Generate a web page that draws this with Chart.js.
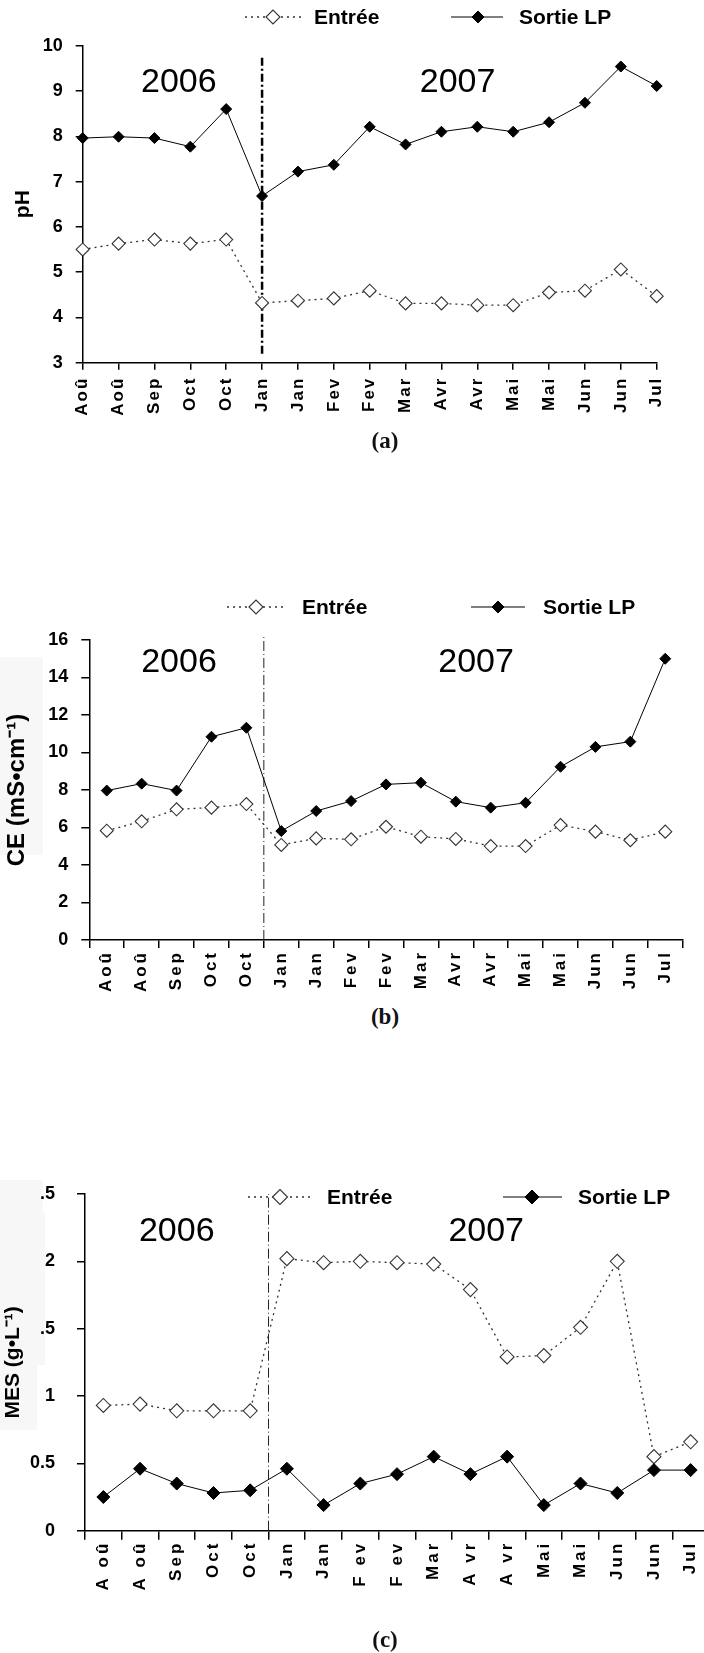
<!DOCTYPE html>
<html>
<head>
<meta charset="utf-8">
<script src="https://cdn.jsdelivr.net/npm/chart.js@4.4.0/dist/chart.umd.min.js"></script>
<style>
  body { margin: 0; width: 704px; height: 1653px; background: #fff; position: relative; overflow: hidden; }
  .panel { position: absolute; left: 0; }
  .caption { position: absolute; left: 345px; width: 80px; text-align: center; font-family: "Liberation Serif", "DejaVu Serif", serif; font-weight: bold; font-size: 23px; line-height: 26px; color: #111; }
</style>
</head>
<body>
<div class="panel" style="top:0;width:704px;height:440px"><canvas id="chartA"></canvas></div>
<div class="caption" style="top:428px">(a)</div>
<div class="panel" style="top:560px;width:704px;height:440px"><canvas id="chartB"></canvas></div>
<div class="caption" style="top:1004px">(b)</div>
<div class="panel" style="top:1160px;width:730px;height:493px"><canvas id="chartC"></canvas></div>
<div class="caption" style="top:1627px">(c)</div>
<script>
// sampling months (two campaigns per month, Aug 2006 -> Jul 2007)
const months = ['Aoû', 'Aoû', 'Sep', 'Oct', 'Oct', 'Jan', 'Jan', 'Fev', 'Fev', 'Mar', 'Avr', 'Avr', 'Mai', 'Mai', 'Jun', 'Jun', 'Jul'];
const monthsC = ['A oû', 'A oû', 'Sep', 'Oct', 'Oct', 'Jan', 'Jan', 'F ev', 'F ev', 'Mar', 'A vr', 'A vr', 'Mai', 'Mai', 'Jun', 'Jun', 'Jul'];

// (a) pH
const phEntree = [5.50, 5.63, 5.72, 5.63, 5.72, 4.32, 4.37, 4.42, 4.59, 4.31, 4.31, 4.27, 4.27, 4.55, 4.59, 5.06, 4.47];
const phSortie = [7.96, 7.99, 7.96, 7.77, 8.60, 6.68, 7.22, 7.37, 8.21, 7.82, 8.10, 8.21, 8.10, 8.31, 8.74, 9.54, 9.11];

// (b) conductivity, mS/cm
const ceEntree = [5.83, 6.33, 6.97, 7.06, 7.25, 5.07, 5.42, 5.37, 6.04, 5.51, 5.39, 5.01, 5.01, 6.13, 5.78, 5.32, 5.78];
const ceSortie = [7.97, 8.34, 7.97, 10.84, 11.32, 5.81, 6.88, 7.41, 8.30, 8.39, 7.38, 7.06, 7.32, 9.24, 10.30, 10.58, 15.0];

// (c) suspended solids, g/L
const mesEntree = [0.93, 0.94, 0.89, 0.89, 0.89, 2.02, 1.99, 2.00, 1.99, 1.98, 1.79, 1.29, 1.30, 1.51, 2.00, 0.55, 0.66];
const mesSortie = [0.25, 0.46, 0.35, 0.28, 0.30, 0.46, 0.19, 0.35, 0.42, 0.55, 0.42, 0.55, 0.19, 0.35, 0.28, 0.45, 0.45];
const mesTickLabels = ['0', '0.5', '1', '.5', '2', '.5'];

const seriesNames = ['Entrée', 'Sortie LP'];
const yearNames = ['2006', '2007'];

const tickFont = { family: 'Liberation Sans, Arial, sans-serif', size: 18, weight: 'bold' };
const labelFont = { family: 'Liberation Sans, Arial, sans-serif', size: 17, weight: 'bold' };

// draws the grey paste boxes, the year split line, the year names and the key
const panelDecor = {
    id: 'panelDecor',
    beforeDraw(chart, args, opts) {
        const ctx = chart.ctx;
        ctx.letterSpacing = '0px';
        ctx.save();
        ctx.fillStyle = '#f7f7f7';
        (opts.boxes || []).forEach(b => ctx.fillRect(b[0], b[1], b[2], b[3]));
        ctx.restore();
    },
    beforeDatasetsDraw(chart, args, opts) {
        const ctx = chart.ctx;
        const x = chart.scales.x, y = chart.scales.y;
        ctx.save();
        const vx = x.getPixelForValue(opts.split.at);
        ctx.strokeStyle = opts.split.color;
        ctx.lineWidth = opts.split.width;
        ctx.setLineDash(opts.split.dash);
        ctx.beginPath();
        ctx.moveTo(vx, y.getPixelForValue(opts.split.from));
        ctx.lineTo(vx, y.getPixelForValue(opts.split.to));
        ctx.stroke();
        ctx.setLineDash([]);
        ctx.fillStyle = '#000';
        ctx.font = opts.yearFont;
        ctx.textAlign = 'center';
        ctx.textBaseline = 'middle';
        yearNames.forEach((t, i) => {
            const p = opts.yearPos[i];
            ctx.fillText(t, x.getPixelForValue(p[0]), y.getPixelForValue(p[1]));
        });
        ctx.restore();
    },
    afterDatasetsDraw(chart, args, opts) {
        // month labels sit in a later layer (ticks.z = 1) and are letter spaced
        chart.ctx.letterSpacing = opts.labelSpacing;
    },
    afterDraw(chart, args, opts) {
        const ctx = chart.ctx;
        const ky = opts.keyY;
        ctx.letterSpacing = '0px';
        ctx.save();
        chart.data.datasets.forEach((ds, i) => {
            const k = opts.key[i];
            ctx.strokeStyle = ds.borderColor;
            ctx.lineWidth = ds.borderWidth;
            ctx.setLineDash(ds.borderDash || []);
            ctx.beginPath();
            ctx.moveTo(k[0], ky);
            ctx.lineTo(k[1], ky);
            ctx.stroke();
            ctx.setLineDash([]);
            ctx.fillStyle = ds.pointBackgroundColor;
            ctx.strokeStyle = ds.pointBorderColor;
            ctx.lineWidth = ds.pointBorderWidth;
            Chart.helpers.drawPoint(ctx, { pointStyle: 'rectRot', radius: ds.pointRadius + 0.5, rotation: 0, borderWidth: ds.pointBorderWidth }, k[2], ky);
            ctx.fillStyle = '#000';
            ctx.font = 'bold 21px "Liberation Sans", Arial, sans-serif';
            ctx.textAlign = 'left';
            ctx.textBaseline = 'middle';
            ctx.fillText(ds.label, k[3], ky + 1);
        });
        ctx.restore();
    }
};

function makeDatasets(entree, sortie, rIn, rOut) {
    return [{
        label: seriesNames[0],
        data: entree,
        borderColor: '#333',
        borderWidth: 1.3,
        borderDash: [2, 4],
        pointStyle: 'rectRot',
        pointRadius: rIn,
        pointBackgroundColor: '#fff',
        pointBorderColor: '#333',
        pointBorderWidth: 1.1,
        tension: 0,
        order: 1
    }, {
        label: seriesNames[1],
        data: sortie,
        borderColor: '#000',
        borderWidth: 1,
        pointStyle: 'rectRot',
        pointRadius: rOut,
        pointBackgroundColor: '#000',
        pointBorderColor: '#000',
        pointBorderWidth: 1,
        tension: 0,
        order: 0
    }];
}

function makeChart(id, cfg) {
    const canvasH = cfg.height;
    return new Chart(document.getElementById(id), {
        type: 'line',
        data: { labels: cfg.labels, datasets: cfg.datasets },
        plugins: [panelDecor],
        options: {
            responsive: true,
            maintainAspectRatio: false,
            animation: false,
            layout: { padding: { top: cfg.top, right: cfg.right, left: 0, bottom: 0 } },
            plugins: {
                legend: { display: false },
                tooltip: { enabled: false },
                panelDecor: cfg.decor
            },
            scales: {
                x: {
                    type: 'category',
                    offset: cfg.offset,
                    afterFit: s => { s.height = canvasH - cfg.bottom; },
                    border: { color: '#000', width: 1.5 },
                    grid: { offset: cfg.offset, drawOnChartArea: false, drawTicks: true, tickLength: cfg.xTick, color: '#000', tickColor: '#000', lineWidth: 1.5 },
                    ticks: { z: 1, color: '#000', font: labelFont, minRotation: 90, maxRotation: 90, autoSkip: false, padding: cfg.xPad }
                },
                y: {
                    min: cfg.min,
                    max: cfg.max,
                    afterFit: s => { s.width = cfg.left; },
                    border: { color: '#000', width: 1.5 },
                    grid: { drawOnChartArea: false, drawTicks: true, tickLength: cfg.yTick, color: '#000', tickColor: '#000', lineWidth: 1.5 },
                    ticks: { stepSize: cfg.step, color: '#000', font: tickFont, padding: cfg.yPad, callback: cfg.tickText },
                    title: { display: true, text: cfg.title, color: '#000', font: cfg.titleFont, padding: { top: cfg.titlePad, bottom: 0 } }
                }
            }
        }
    });
}

document.addEventListener('DOMContentLoaded', function () {
    makeChart('chartA', {
        labels: months,
        datasets: makeDatasets(phEntree, phSortie, 6.5, 5.5),
        height: 440, top: 45.7, right: 47.3, left: 82.7, bottom: 362.7,
        offset: false, xTick: 7, xPad: 7, yTick: 7, yPad: 13,
        min: 3, max: 10, step: 1,
        title: 'pH', titleFont: { family: 'Liberation Sans, Arial, sans-serif', size: 21, weight: 'bold' }, titlePad: 11,
        decor: {
            split: { at: 5, from: 3.2, to: 9.77, color: '#000', width: 2.5, dash: [8, 3, 2, 3] },
            yearFont: '34px "Liberation Sans", Arial, sans-serif',
            yearPos: [[2.68, 9.18], [10.45, 9.18]],
            labelSpacing: '2px',
            keyY: 17,
            key: [[245, 305, 273, 314], [451, 503, 478, 519]]
        }
    });

    makeChart('chartB', {
        labels: months,
        datasets: makeDatasets(ceEntree, ceSortie, 6.5, 5.5),
        height: 440, top: 80, right: 21.3, left: 89.3, bottom: 380,
        offset: true, xTick: 8, xPad: 2, yTick: 8, yPad: 13,
        min: 0, max: 16, step: 2,
        title: 'CE (mS•cm⁻¹)', titleFont: { family: 'Liberation Sans, Arial, sans-serif', size: 24, weight: 'bold' }, titlePad: 3,
        decor: {
            boxes: [[0, 97, 43, 198]],
            split: { at: 4.5, from: 0, to: 16.16, color: '#222', width: 1, dash: [10, 3, 1, 3] },
            yearFont: '34px "Liberation Sans", Arial, sans-serif',
            yearPos: [[2.07, 14.8], [10.58, 14.8]],
            labelSpacing: '3px',
            keyY: 47,
            key: [[227, 287, 256, 302], [471, 525, 498, 543]]
        }
    });

    makeChart('chartC', {
        labels: monthsC,
        datasets: makeDatasets(mesEntree, mesSortie, 7, 6.5),
        height: 493, top: 34, right: 21, left: 85, bottom: 370.7,
        offset: true, xTick: 9, xPad: 1, yTick: 8, yPad: 22,
        min: 0, max: 2.5, step: 0.5,
        tickText: (v, i) => mesTickLabels[i],
        title: 'MES (g•L⁻¹)', titleFont: { family: 'Liberation Sans, Arial, sans-serif', size: 21, weight: 'bold' }, titlePad: 1,
        decor: {
            boxes: [[0, 20, 43, 33], [0, 53, 45, 152], [0, 205, 37, 65]],
            split: { at: 4.5, from: 0, to: 2.5, color: '#222', width: 1, dash: [10, 3, 1, 3] },
            yearFont: '34px "Liberation Sans", Arial, sans-serif',
            yearPos: [[2.0, 2.22], [10.43, 2.22]],
            labelSpacing: '3px',
            keyY: 37,
            key: [[248, 313, 280, 327], [503, 562, 532, 578]]
        }
    });
});
</script>
</body>
</html>
